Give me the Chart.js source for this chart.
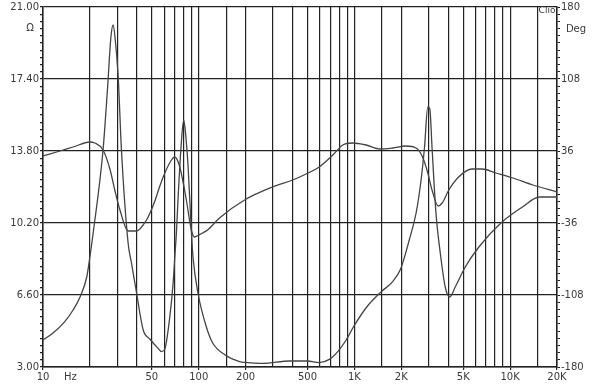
<!DOCTYPE html>
<html lang="en">
<head>
  <meta charset="UTF-8" />
  <title>Impedance / Phase</title>
  <style>
    html, body { margin: 0; padding: 0; background: #fff; }
    #wrap { width: 600px; height: 384px; }
  </style>
</head>
<body>
  <div id="wrap"><canvas id="chart" width="600" height="384"></canvas></div>

  <script src="https://cdn.jsdelivr.net/npm/chart.js"></script>
  <script>
    // impedance magnitude (ohm)
    const impFreq = [10, 11.6, 13.8, 15.6, 17.3, 19.1, 20, 21, 24.3, 26, 27.3, 28.2, 29, 30.4, 31.9, 35.2, 37, 39.9, 44, 48.5, 54.9, 57.7, 60.6, 65.2, 68.5, 70.2, 71.9, 73.6, 77, 80.1, 82.5, 85.5, 89.8, 91.9, 98.9, 112, 123, 148, 183, 200, 258, 384, 500, 594, 690, 782, 885, 985, 1200, 1490, 1760, 1980, 2250, 2490, 2680, 2820, 2960, 3050, 3150, 3340, 3560, 3830, 4090, 4440, 5150, 6300, 8730, 12000, 15400, 20000];
    const impOhm = [4.35, 4.7, 5.27, 5.85, 6.5, 7.5, 8.5, 9.7, 13.85, 17.0, 19.5, 20.1, 19.5, 17.5, 13.85, 9.2, 8.2, 6.7, 4.85, 4.4, 3.93, 3.77, 3.9, 5.5, 7.2, 8.5, 9.7, 11.35, 14.0, 15.35, 14.6, 13.0, 9.7, 8.5, 6.7, 5.0, 4.2, 3.6, 3.27, 3.23, 3.18, 3.3, 3.3, 3.22, 3.38, 3.77, 4.35, 5.0, 6.0, 6.77, 7.27, 7.9, 9.35, 10.7, 12.35, 14.0, 16.0, 15.9, 14.0, 10.7, 8.7, 7.0, 6.5, 7.0, 8.0, 9.0, 10.2, 11.0, 11.5, 11.5];

    // phase (deg)
    const phaseFreq = [10, 12.85, 15.6, 20, 21.5, 24.3, 27, 28.9, 31.2, 35.2, 39.9, 46.2, 49, 52.3, 56, 60.6, 66.8, 70.2, 75.6, 83.3, 89.7, 94, 100, 106, 114, 136, 197, 298, 402, 489, 594, 727, 842, 970, 1190, 1460, 1760, 2140, 2490, 2740, 2960, 3150, 3450, 3660, 4040, 4670, 5680, 6600, 8100, 10400, 14000, 20000];
    const phaseDeg = [31, 36, 40, 45, 44, 37, 17, -3, -23, -44, -44, -33, -25, -14, 0, 14, 27, 30, 20, -13, -43, -50, -48, -46, -43, -31, -13, 0, 7, 13, 20, 32, 42, 44, 42, 38, 39, 41, 39, 30, 14, -3, -19, -16, -3, 10, 18, 18, 14, 9, 2, -5];

    // axes
    const xGrid = [10, 15, 20, 30, 40, 50, 60, 70, 80, 90, 100, 150, 200, 300, 400, 500, 600, 700, 800, 900, 1000, 1500, 2000, 3000, 4000, 5000, 6000, 7000, 8000, 9000, 10000, 15000, 20000];
    const xLabelValues = [10, 15, 50, 100, 200, 500, 1000, 2000, 5000, 10000, 20000];
    const xLabelTexts = ["10", "Hz", "50", "100", "200", "500", "1K", "2K", "5K", "10K", "20K"];
    const ohmLabels = ["3.00", "6.60", "10.20", "13.80", "17.40", "21.00"];
    const degLabels = ["-180", "-108", "-36", "36", "108", "180"];

    const ink = "#222";
    const textColor = "#3a3a3a";
    const font = { family: "DejaVu Sans", size: 10 };

    function minorTicks(min, step, count) {
      const out = [];
      for (let i = 0; i <= count; i++) out.push({ value: +(min + i * step).toFixed(4) });
      return out;
    }

    const textPlugin = {
      id: "extraText",
      afterDraw(chart) {
        const c = chart.ctx;
        c.save();
        c.fillStyle = textColor;
        c.font = "10px 'DejaVu Sans'";
        c.textAlign = "center";
        c.textBaseline = "middle";
        c.fillText("Ω", 30, 28);
        c.fillText("Deg", 576, 29);
        c.font = "9px 'DejaVu Sans'";
        c.fillText("Clio", 547, 11);
        c.restore();
      }
    };

    const ctx = document.getElementById("chart").getContext("2d");
    new Chart(ctx, {
      type: "line",
      data: {
        datasets: [
          {
            label: "Ohm",
            data: impFreq.map((f, i) => ({ x: f, y: impOhm[i] })),
            yAxisID: "y",
            borderColor: "#444",
            borderWidth: 1.3,
            pointRadius: 0,
            cubicInterpolationMode: "monotone"
          },
          {
            label: "Deg",
            data: phaseFreq.map((f, i) => ({ x: f, y: phaseDeg[i] })),
            yAxisID: "y2",
            borderColor: "#444",
            borderWidth: 1.3,
            pointRadius: 0,
            cubicInterpolationMode: "monotone"
          }
        ]
      },
      options: {
        responsive: false,
        animation: false,
        devicePixelRatio: 1,
        layout: { padding: { top: 7, left: 0, right: 0, bottom: 0 } },
        plugins: { legend: { display: false }, tooltip: { enabled: false } },
        scales: {
          x: {
            type: "logarithmic",
            position: "bottom",
            min: 10,
            max: 20000,
            afterBuildTicks: s => { s.ticks = xGrid.map(v => ({ value: v })); },
            afterFit: s => { s.height = 17; },
            ticks: {
              autoSkip: false,
              maxRotation: 0,
              padding: 1,
              color: textColor,
              font: font,
              callback: (v, i, ticks) => {
                const k = xLabelValues.indexOf(ticks[i].value);
                return k >= 0 ? xLabelTexts[k] : "";
              }
            },
            grid: {
              color: c => (c.tick && c.tick.value === 15 ? "rgba(0,0,0,0)" : ink),
              lineWidth: 1.2,
              tickLength: 3,
              tickColor: c => (c.tick && xLabelValues.includes(c.tick.value) && c.tick.value !== 15 ? ink : "rgba(0,0,0,0)")
            },
            border: { color: ink, width: 1.5 }
          },
          y: {
            type: "linear",
            position: "left",
            min: 3,
            max: 21,
            afterBuildTicks: s => { s.ticks = minorTicks(3, 0.36, 50); },
            afterFit: s => { s.width = 43; },
            ticks: {
              autoSkip: false,
              padding: 1,
              color: textColor,
              font: font,
              callback: (v, i) => (i % 10 === 0 ? ohmLabels[i / 10] : "")
            },
            grid: {
              color: c => (c.index % 10 === 0 ? ink : "rgba(0,0,0,0)"),
              lineWidth: 1.2,
              tickLength: 3,
              tickColor: ink
            },
            border: { color: ink, width: 1.5 }
          },
          y2: {
            type: "linear",
            position: "right",
            min: -180,
            max: 180,
            afterBuildTicks: s => { s.ticks = minorTicks(-180, 7.2, 50); },
            afterFit: s => { s.width = 43; },
            ticks: {
              autoSkip: false,
              padding: 1,
              color: textColor,
              font: font,
              callback: (v, i) => (i % 10 === 0 ? degLabels[i / 10] : "")
            },
            grid: {
              drawOnChartArea: false,
              tickLength: 3,
              tickColor: ink
            },
            border: { color: ink, width: 1.5 }
          }
        }
      },
      plugins: [textPlugin]
    });
  </script>
</body>
</html>
